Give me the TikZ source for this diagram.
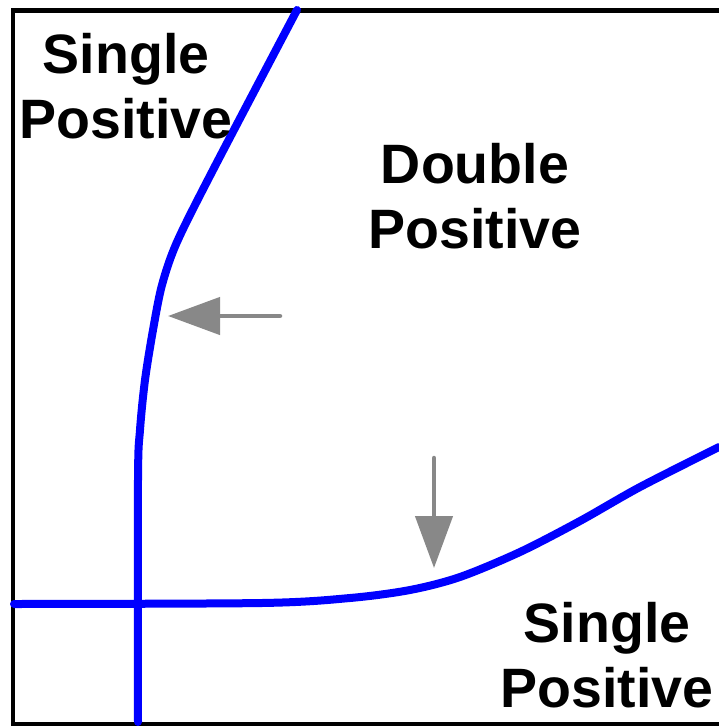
\documentclass[tikz,border=0pt]{standalone}
\usepackage{fontspec}
\setmainfont{Liberation Sans}
\usetikzlibrary{arrows.meta}

\definecolor{gateblue}{RGB}{0,0,255}
\definecolor{shiftgray}{RGB}{136,136,136}

\begin{document}
\begin{tikzpicture}[x=1pt, y=-1pt,
    gateline/.style={gateblue, line width=8pt, line cap=round, line join=round},
    shiftarrow/.style={shiftgray, line width=4.5pt, line cap=round,
      -{Triangle[length=52pt, width=37pt]}},
    regionlabel/.style={font=\fontsize{55.5}{65}\selectfont\bfseries,
      align=center, inner sep=0pt}]
  \useasboundingbox (0,0) rectangle (719,726);

  % plot frame, right edge is cut off
  \draw[line width=4.5pt] (719,10.5) -| (13,724.5) -- (719,724.5);

  % vertical gate
  \draw[gateline] plot[smooth] coordinates {(297,10) (213,170) (177,242)
    (162,285) (153,330) (145,380) (140,430) (138,480) (138,722)};
  % horizontal gate
  \draw[gateline] plot[smooth] coordinates {(14,604) (262,603) (350,598)
    (410,590) (460,577) (520,552) (580,521) (640,487) (719,447)};

  % region labels
  \node[regionlabel] (spTop) at (126,86) {Single\\Positive};
  \node[regionlabel] (dp) at (475,196) {Double\\Positive};
  \node[regionlabel] (spBottom) at (607,655) {Single\\Positive};

  % gate shifts
  \coordinate (hTail) at (280,316);
  \coordinate (hTip) at (168,316);
  \coordinate (vTail) at (434,458);
  \coordinate (vTip) at (434,568);
  \draw[shiftarrow] (hTail) -- (hTip);
  \draw[shiftarrow] (vTail) -- (vTip);
\end{tikzpicture}
\end{document}
